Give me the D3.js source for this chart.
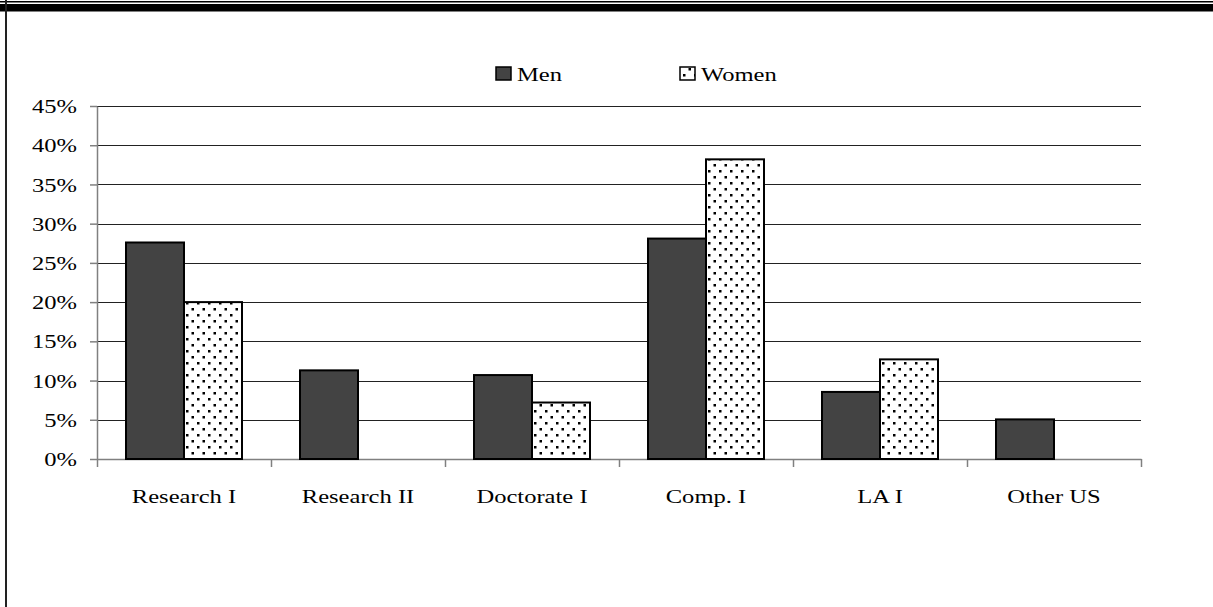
<!DOCTYPE html>
<html><head><meta charset="utf-8">
<script src="https://cdn.jsdelivr.net/npm/d3@7/dist/d3.min.js"></script>
<style>
html,body{margin:0;padding:0;background:#fff;}
svg{display:block;}
text{font-family:"Liberation Serif","Times New Roman",serif;font-size:19.5px;fill:#000;}
</style></head>
<body>
<svg id="chart" width="1213" height="607"></svg>
<script>
const categories = ["Research I","Research II","Doctorate I","Comp. I","LA I","Other US"];
const series = ["Men","Women"];
const menValues = [27.6, 11.3, 10.7, 28.1, 8.55, 5.05];
const womenValues = [20.0, 0, 7.2, 38.2, 12.7, 0];
const yTicks = [0,0.05,0.10,0.15,0.20,0.25,0.30,0.35,0.40,0.45];

(function(){
const SX = 1.26; // horizontal text stretch seen in reference
const svg = d3.select("#chart");
const W = 1213, H = 607;
const pLeft = 97, pRight = 1141, pTop = 106, pBottom = 459;

const defs = svg.append("defs");
const pat = defs.append("pattern").attr("id","dots").attr("patternUnits","userSpaceOnUse")
  .attr("width",11).attr("height",12);
pat.append("rect").attr("width",11).attr("height",12).attr("fill","#fff");
pat.append("rect").attr("x",1).attr("y",2).attr("width",2.5).attr("height",2.5).attr("fill","#000");
pat.append("rect").attr("x",6.5).attr("y",8).attr("width",2.5).attr("height",2.5).attr("fill","#000");

// page frame lines
svg.append("rect").attr("x",0).attr("y",1).attr("width",W).attr("height",1.5).attr("fill","#000");
svg.append("rect").attr("x",0).attr("y",4).attr("width",W).attr("height",7.5).attr("fill","#000");
svg.append("rect").attr("x",5).attr("y",0).attr("width",2).attr("height",H).attr("fill","#222");

const data = categories.map((c,i)=>({cat:c, Men:menValues[i]/100, Women:womenValues[i]/100}));

const x0 = d3.scaleBand().domain(categories).range([pLeft,pRight]).padding(0);
const x1 = d3.scaleBand().domain(series).range([0,x0.bandwidth()]).paddingInner(0).paddingOuter(0.5);
const y = d3.scaleLinear().domain([0,0.45]).range([pBottom,pTop]);
const xi = d3.scaleLinear().domain([0,categories.length]).range([pLeft,pRight]);

// gridlines
svg.append("g").selectAll("line").data(yTicks.filter(d=>d>0)).join("line")
  .attr("x1",pLeft).attr("x2",pRight).attr("y1",d=>Math.round(y(d))+0.5).attr("y2",d=>Math.round(y(d))+0.5)
  .attr("stroke","#222").attr("stroke-width",1.2);

// y axis
const ya = svg.append("g").attr("transform",`translate(${pLeft},0)`)
  .call(d3.axisLeft(y).tickValues(yTicks).tickFormat(d3.format(".0%")).tickSize(7).tickPadding(13).tickSizeOuter(0));
ya.select(".domain").attr("stroke","#808080").attr("stroke-width",1.5);
ya.selectAll(".tick line").attr("stroke","#808080").attr("stroke-width",1.5);
ya.selectAll(".tick text").attr("font-family",null).attr("font-size",null)
  .each(function(){ const t=d3.select(this); const xv=+t.attr("x"); t.attr("x",xv/SX).attr("transform",`scale(${SX},1)`).attr("dy","0.34em"); });

// x axis boundary ticks
const xa = svg.append("g").attr("transform",`translate(0,${pBottom})`)
  .call(d3.axisBottom(xi).tickValues(d3.range(categories.length+1)).tickFormat("").tickSize(8).tickSizeOuter(0));
xa.select(".domain").attr("stroke","#808080").attr("stroke-width",1.5);
xa.selectAll(".tick line").attr("stroke","#808080").attr("stroke-width",1.5);

// category labels
const xl = svg.append("g").attr("transform",`translate(0,${pBottom})`)
  .call(d3.axisBottom(x0).tickSize(0).tickPadding(30));
xl.select(".domain").remove();
xl.selectAll(".tick text").attr("font-family",null).attr("font-size",null)
  .attr("transform",`scale(${SX},1)`);

// bars
const groups = svg.append("g").selectAll("g").data(data).join("g")
  .attr("transform",d=>`translate(${x0(d.cat)},0)`);
groups.selectAll("rect").data(d=>series.map(s=>({s, v:d[s]})).filter(e=>e.v>0)).join("rect")
  .attr("x",e=>x1(e.s)).attr("width",x1.bandwidth())
  .attr("y",e=>y(e.v)).attr("height",e=>pBottom-y(e.v))
  .attr("fill",e=>e.s==="Men"?"#434343":"url(#dots)")
  .attr("stroke","#000").attr("stroke-width",2);

// legend
const legendX = [496, 680];
const lg = svg.append("g");
series.forEach((s,i)=>{
  lg.append("rect").attr("x",legendX[i]).attr("y",67).attr("width",15).attr("height",13)
    .attr("fill",s==="Men"?"#434343":"url(#dots)").attr("stroke","#000").attr("stroke-width",1.5);
  lg.append("text").attr("transform",`translate(${legendX[i]+21},81) scale(${SX},1)`).text(s);
});
})();
</script>
</body></html>
